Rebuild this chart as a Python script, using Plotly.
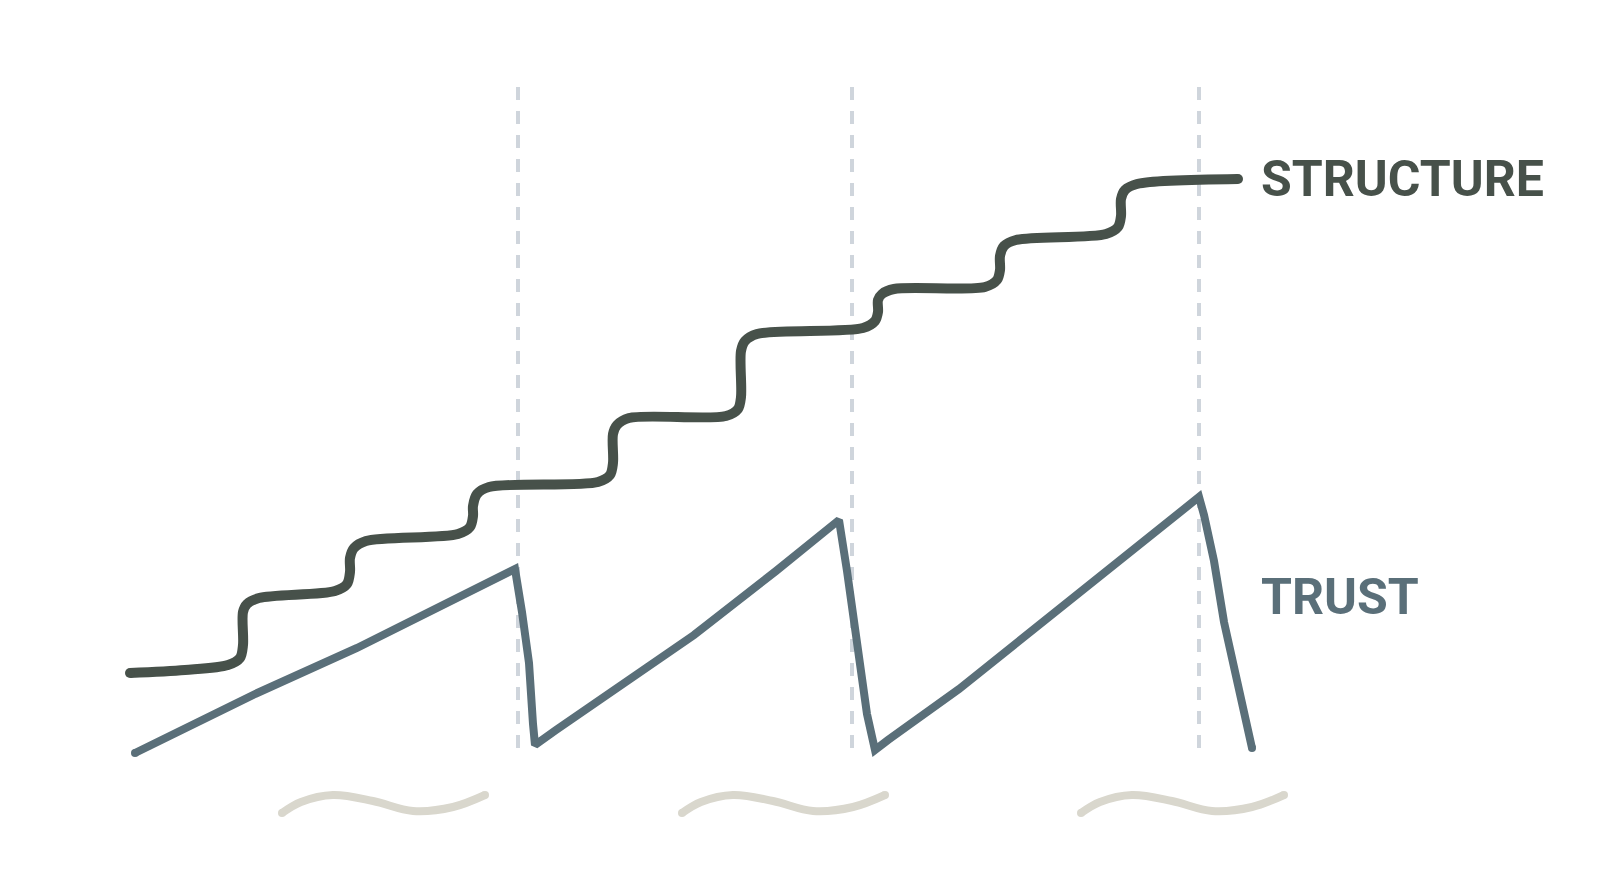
import plotly.graph_objects as go

# --- data (canvas units: x to the right, y downward) ---
structure_x = [130, 185,
               228, 240, 243, 243, 247, 259,
               335, 347, 350, 350, 354, 366,
               458, 470, 473, 473, 477, 489,
               598, 610, 613, 613, 617, 629,
               726, 738, 741, 741, 745, 757,
               863, 875, 878, 878, 882, 894,
               985, 997, 1000, 1000, 1004, 1016,
               1106, 1118, 1121, 1121, 1125, 1137,
               1238]
structure_y = [673, 670,
               665, 658, 645, 612, 604, 598,
               591, 584, 572, 558, 548, 541,
               534, 527, 516, 506, 494, 487,
               482, 475, 463, 434, 425, 418,
               416, 409, 397, 351, 341, 334,
               328, 321, 312, 300, 294, 289,
               287, 280, 270, 256, 246, 240,
               234, 227, 216, 199, 190, 184,
               179]

trust_x = [135, 255, 357, 439, 515, 522, 529, 533, 535, 556, 612, 694, 776, 839, 847, 857, 867, 875,
           888, 959, 1041, 1112, 1184, 1199, 1204, 1214, 1224, 1235, 1247, 1252]
trust_y = [753, 694, 648, 607, 569, 612, 663, 724, 745, 730, 692, 635, 571, 520, 571, 643, 714, 750,
           740, 689, 624, 566, 510, 497, 515, 561, 622, 673, 724, 748]

divider_x = [518, 852, 1199]
divider_top = 87
divider_bottom = 752

tilde_centers = [383, 783, 1182]
tilde_dx = [-101, -82, -50, -10, 30, 70, 102]
tilde_y = [813, 802, 795, 801, 811, 807, 795]

labels = ["STRUCTURE", "TRUST"]
label_x = [1259, 1259]
label_y = [179, 597]

STRUCT_COLOR = "#47514a"
TRUST_COLOR = "#5a6f79"
DIV_COLOR = "#cfd5dc"
TILDE_COLOR = "#d9d7cd"

fig = go.Figure()

for dx in divider_x:
    fig.add_trace(go.Scatter(x=[dx, dx], y=[divider_top, divider_bottom], mode="lines",
                             line=dict(color=DIV_COLOR, width=4, dash="13px,11px"),
                             hoverinfo="skip", showlegend=False))

for cx in tilde_centers:
    fig.add_trace(go.Scatter(x=[cx + d for d in tilde_dx], y=tilde_y, mode="lines",
                             line=dict(color=TILDE_COLOR, width=8, shape="spline", smoothing=1.0),
                             hoverinfo="skip", showlegend=False))
    fig.add_trace(go.Scatter(x=[cx + tilde_dx[0], cx + tilde_dx[-1]], y=[tilde_y[0], tilde_y[-1]],
                             mode="markers", marker=dict(color=TILDE_COLOR, size=8),
                             hoverinfo="skip", showlegend=False))

fig.add_trace(go.Scatter(x=trust_x, y=trust_y, mode="lines",
                         line=dict(color=TRUST_COLOR, width=8),
                         hoverinfo="skip", showlegend=False))
fig.add_trace(go.Scatter(x=[trust_x[0], trust_x[-1]], y=[trust_y[0], trust_y[-1]], mode="markers",
                         marker=dict(color=TRUST_COLOR, size=8),
                         hoverinfo="skip", showlegend=False))

fig.add_trace(go.Scatter(x=structure_x, y=structure_y, mode="lines",
                         line=dict(color=STRUCT_COLOR, width=10, shape="spline", smoothing=0.9),
                         hoverinfo="skip", showlegend=False))
fig.add_trace(go.Scatter(x=[structure_x[0], structure_x[-1]], y=[structure_y[0], structure_y[-1]],
                         mode="markers", marker=dict(color=STRUCT_COLOR, size=10),
                         hoverinfo="skip", showlegend=False))

fig.add_annotation(x=label_x[0], y=label_y[0], text="<b>" + labels[0] + "</b>", showarrow=False,
                   xanchor="left", yanchor="middle",
                   font=dict(family="Roboto", size=50, color=STRUCT_COLOR))
fig.add_annotation(x=label_x[1], y=label_y[1], text="<b>" + labels[1] + "</b>", showarrow=False,
                   xanchor="left", yanchor="middle",
                   font=dict(family="Roboto", size=50, color=TRUST_COLOR))

fig.update_layout(
    width=1600, height=893,
    margin=dict(l=0, r=0, t=0, b=0),
    paper_bgcolor="white", plot_bgcolor="white",
    xaxis=dict(range=[0, 1600], visible=False, fixedrange=True),
    yaxis=dict(range=[893, 0], visible=False, fixedrange=True),
)

fig.write_html("out.html")
